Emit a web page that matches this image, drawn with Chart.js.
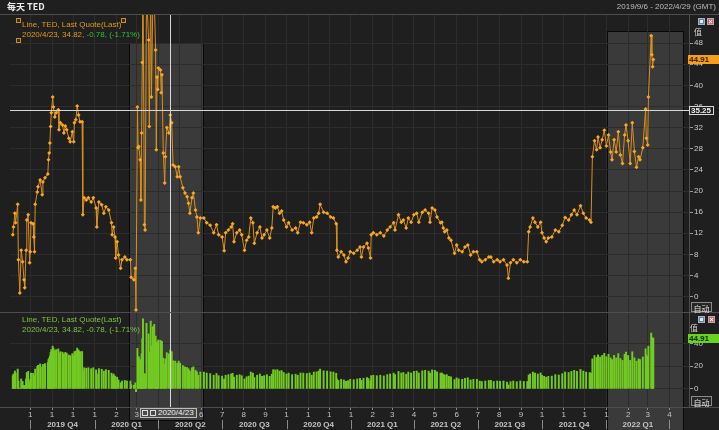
<!DOCTYPE html>
<html>
<head>
<meta charset="utf-8">
<script src="https://cdn.jsdelivr.net/npm/chart.js@4"></script>
<style>
  html, body { margin: 0; padding: 0; background: #1f1f1f; }
  #wrap { position: relative; width: 719px; height: 430px; overflow: hidden; background: #1f1f1f; }
  #chart { position: absolute; left: 0; top: 0; }
  .txt { position: absolute; white-space: nowrap; font: 8px "Liberation Sans", Arial, sans-serif; line-height: 10px; }
  .cjk { font-family: "Noto Sans CJK SC", sans-serif; color: #cfcfcf; }
  .orange { color: #e39a1e; }
  .green { color: #2fc23a; }
  .lgreen { color: #7fc241; }
  .tag { position: absolute; height: 9px; line-height: 9px; font: bold 8px "Liberation Sans", Arial, sans-serif; padding: 0 1px; box-sizing: border-box; }
  .btn { position: absolute; width: 21px; height: 10px; line-height: 9px; box-sizing: border-box; border: 1px solid #8a8a8a; color: #e0e0e0; font: 8px "Noto Sans CJK SC", sans-serif; text-align: center; background: #262626; }
  .ico { position: absolute; width: 7px; height: 7px; box-sizing: border-box; }
  .win { border: 1px solid #9fb4c8; background: #dfe8f0; box-shadow: inset 0 0 0 1px #6b8097; }
  .cls { border: 1px solid #c9a0a0; background: #b86868; color: #fff; font: bold 7px/5px Arial, sans-serif; text-align: center; }
  .sq { position: absolute; width: 5px; height: 5px; box-sizing: border-box; border: 1px solid #d08c1e; background: #3a2a10; }
  .xbox { position: absolute; height: 10px; box-sizing: border-box; border: 1px solid #bdbdbd; background: #4a4a4a; color: #f0f0f0; font: 8px/8px "Liberation Sans", Arial, sans-serif; padding: 0 2px 0 1px; white-space: nowrap; }
  .xbox i { display: inline-block; width: 6px; height: 6px; border: 1px solid #ddd; box-sizing: border-box; margin: 1px 2px 0 0; vertical-align: top; }
</style>
</head>
<body>
<div id="wrap">
  <canvas id="chart" width="719" height="430"></canvas>

  <div class="txt cjk" style="left:7px;top:2px;font-size:9px;color:#ececec;font-weight:bold">每天 TED</div>
  <div class="txt" style="right:3px;top:2px;color:#bdbdbd">2019/9/6 - 2022/4/29 (GMT)</div>
  <span class="ico win" style="left:698px;top:18px"></span>
  <span class="ico cls" style="left:707px;top:18px">×</span>
  <div class="txt cjk" style="left:694px;top:27px">值</div>

  <span class="sq" style="left:16px;top:18px"></span>
  <span class="sq" style="left:121px;top:18px"></span>
  <span class="sq" style="left:16px;top:38px"></span>
  <div class="txt orange" style="left:22px;top:20px">Line, TED, Last Quote(Last)</div>
  <div class="txt orange" style="left:22px;top:30px">2020/4/23, 34.82, <span class="green">-0.78, (-1.71%)</span></div>

  <div class="tag" style="left:688px;top:55px;width:31px;background:#f5a01a;color:#3b1d00">44.91</div>
  <div class="tag" style="left:689px;top:106px;width:25px;border:1px solid #d8d8d8;color:#eeeeee;background:#202020;line-height:7px">35.25</div>
  <div class="btn" style="left:691px;top:302px">自动</div>

  <span class="ico win" style="left:698px;top:316px"></span>
  <span class="ico cls" style="left:708px;top:316px">×</span>
  <div class="txt cjk" style="left:690px;top:323px">值</div>
  <div class="txt lgreen" style="left:22px;top:315px">Line, TED, Last Quote(Last)</div>
  <div class="txt lgreen" style="left:22px;top:325px">2020/4/23, 34.82, -0.78, (-1.71%)</div>
  <div class="tag" style="left:688px;top:334px;width:31px;background:#6ad41c;color:#0f2a00">44.91</div>
  <div class="btn" style="left:691px;top:396px">自动</div>

  <div class="xbox" style="left:140px;top:408px"><i></i><i></i>2020/4/23</div>
</div>

<script>
// x values are calendar-day offsets from 2019-09-06 (first day of the range)
const days = [
  0, 1, 3, 4, 7, 8, 10, 12, 14, 16, 17, 19, 20, 22, 24, 25, 26, 29, 30, 31,
  32, 35, 36, 39, 42, 43, 46, 50, 51, 52, 53, 54, 55, 57, 58, 60, 62, 65, 66, 68,
  71, 73, 75, 77, 80, 82, 85, 87, 88, 90, 92, 94, 96, 99, 100, 102, 105, 108, 112, 115,
  119, 120, 123, 127, 130, 133, 137, 141, 142, 144, 146, 147, 149, 151, 154, 156, 160, 163, 168, 169,
  173, 175, 176, 178, 179, 180, 182, 183, 184, 185, 186, 188, 189, 191, 194, 195, 197, 198, 200, 202,
  204, 205, 206, 207, 208, 211, 212, 213, 215, 217, 218, 220, 223, 225, 227, 229, 232, 235, 237, 239,
  243, 246, 249, 251, 253, 256, 258, 261, 263, 265, 268, 273, 277, 282, 287, 291, 294, 299, 302, 304,
  308, 312, 314, 316, 320, 324, 327, 331, 334, 337, 340, 343, 345, 349, 353, 356, 359, 363, 367, 370,
  372, 375, 378, 381, 384, 387, 391, 394, 399, 404, 407, 411, 415, 420, 424, 427, 430, 434, 437, 439,
  444, 449, 454, 458, 462, 463, 465, 469, 473, 476, 479, 482, 487, 492, 496, 498, 501, 506, 508, 511,
  512, 515, 520, 525, 530, 535, 539, 544, 546, 551, 555, 558, 562, 565, 569, 573, 577, 580, 585, 589,
  594, 596, 599, 603, 606, 611, 613, 615, 617, 620, 623, 626, 631, 634, 637, 642, 646, 650, 654, 658,
  663, 667, 670, 675, 680, 683, 687, 692, 696, 701, 706, 708, 711, 715, 720, 725, 730, 735, 737, 739,
  743, 746, 750, 754, 756, 759, 762, 765, 770, 775, 780, 785, 789, 794, 798, 802, 806, 811, 815, 819,
  824, 826, 828, 831, 834, 836, 839, 842, 845, 848, 851, 854, 856, 859, 862, 865, 868, 871, 874, 876,
  879, 882, 885, 888, 891, 894, 896, 900, 904, 905, 907, 908, 912, 913, 914, 915
];
const values = [
  11.7, 13.2, 15.8, 14, 17.5, 7, 0.7, 8.8, 6.6, 3.2, 1.7, 8.8, 14.5, 15.5, 6.4, 8.5, 14, 13.8, 11.3, 8.5,
  17.5, 19.8, 20.8, 22.1, 19.3, 21.7, 22.5, 23.2, 25.9, 27.2, 29.1, 32.2, 34.8, 37.8, 35.9, 34, 34.8, 35.4, 31.6, 32.9,
  32.5, 31, 32.3, 31.6, 30, 29.3, 31.2, 29.3, 32.9, 33.5, 36.1, 34.4, 33.1, 33.1, 15.5, 18.7, 18.3, 18.7, 17.9, 18.7,
  16.8, 13.2, 17.9, 17.4, 15.8, 17, 16.4, 14, 11.7, 13.2, 11.3, 7.3, 10.4, 7.9, 5.4, 7, 7.5, 7, 7, 3.7,
  3.2, 5.4, -2.5, 35.9, 28.2, 28.4, 25.9, 18.3, 31, 44.3, 62, 13.6, 12.6, 58, 48.6, 32.2, 60, 37.8, 55, 57,
  46.7, 27.8, 41.6, 39.2, 43.3, 42.9, 38.6, 42, 27.2, 21.5, 26.5, 32, 31, 34.4, 32.9, 24.9, 24.6, 22.7, 24.6, 22.7,
  20.6, 19.6, 18.9, 17.7, 15.8, 18.7, 19.6, 16.4, 15.1, 12.1, 14.9, 14.9, 14, 13.5, 12.1, 13.6, 11.7, 11.3, 8.7, 12.1,
  12.6, 13.2, 13.8, 10.4, 12.1, 12.6, 11.7, 8.8, 10.7, 11.3, 14.9, 14, 10.1, 12.1, 13.2, 11.1, 11.7, 12.6, 11.1, 13,
  17, 16.8, 17, 15.8, 16.2, 14.5, 13.2, 14, 12.6, 13, 12.1, 14.1, 14, 13.6, 14.1, 12.1, 14.9, 15.1, 15.8, 17.5,
  16, 15.8, 15.1, 14.9, 13.8, 8.8, 7.5, 8.5, 7.9, 6.6, 7.3, 8.5, 8.2, 8.8, 9.4, 7.5, 9.4, 10.1, 9.2, 7.3,
  11.7, 12.1, 11.7, 12.1, 11.5, 12.6, 13.2, 14, 12.6, 15.5, 14.1, 14.5, 13, 14.9, 14.1, 15.5, 15.8, 14.1, 16, 16.4,
  15.8, 14.1, 16.8, 16.4, 15.1, 14, 14.1, 13, 12.3, 12.6, 11.1, 10.7, 8.2, 9.8, 8.8, 8.5, 9.4, 9.8, 7.9, 8.5,
  8.5, 7, 6.6, 7, 7.5, 7.5, 6.6, 7, 6.6, 7, 6, 3.5, 6.4, 7, 6.4, 7, 6.6, 6.6, 12.3, 13.2,
  14.9, 14.1, 13.2, 14.1, 12.1, 11.1, 10.4, 11.1, 11.3, 12.6, 12.3, 13.5, 15, 14.5, 15.5, 16.4, 15.5, 17.2, 15.8, 14.9,
  14.5, 14.1, 26.5, 29.5, 27.8, 30.2, 28.2, 29.7, 31.5, 28.5, 30.6, 27.4, 25.9, 29.7, 27.4, 31.2, 26.8, 25.2, 30.6, 32.5,
  29.5, 25.2, 32.9, 27.5, 24.5, 26.5, 25.9, 28.2, 35.5, 30, 28.7, 37.8, 49.4, 45.8, 43.5, 44.91
];

// month starts (day offsets) and their labels as the terminal prints them
const monthDays = [25, 56, 86, 117, 148, 177, 208, 238, 269, 299, 330, 361, 391, 422, 452,
  483, 514, 542, 573, 603, 634, 664, 695, 726, 756, 787, 817, 848, 879, 907, 938];
const monthLabels = ['1', '1', '1', '1', '2', '3', '4', '5', '6', '7', '8', '9', '1', '1', '1',
  '1', '2', '3', '4', '5', '6', '7', '8', '9', '1', '1', '1', '1', '2', '3', '4'];
const quarterEdges = [25, 117, 208, 299, 391, 483, 573, 664, 756, 848, 938];
const quarterLabels = ['2019 Q4', '2020 Q1', '2020 Q2', '2020 Q3', '2020 Q4',
  '2021 Q1', '2021 Q2', '2021 Q3', '2021 Q4', '2022 Q1'];
const upperTicks = [0, 4, 8, 12, 16, 20, 24, 28, 32, 36, 40, 44, 48];
const lowerTicks = [0, 20, 40];

// shaded highlight ranges and the crosshair
const shadeFrom = [166, 849];
const shadeTo = [272, 958];
const shadeTop = [48, 50.3];
const crossDay = 225;
const crossValue = 35.25;

Chart.defaults.font.family = '"Liberation Sans", Arial, sans-serif';
Chart.defaults.font.size = 8;

const points = days.map((d, i) => ({ x: d, y: values[i] }));

const panels = {
  id: 'panels',
  beforeDraw(chart) {
    const { ctx, chartArea, scales } = chart;
    ctx.save();
    shadeFrom.forEach((from, i) => {
      const x1 = Math.round(scales.x.getPixelForValue(from)) + 0.5;
      const x2 = Math.round(scales.x.getPixelForValue(shadeTo[i])) + 0.5;
      const top = Math.round(scales.y.getPixelForValue(shadeTop[i])) + 0.5;
      const bottom = i === 0 ? chartArea.bottom + 13.5 : chart.height + 1;
      ctx.fillStyle = '#3a3a3a';
      ctx.fillRect(x1, top, x2 - x1, bottom - top);
      ctx.strokeStyle = '#080808';
      ctx.lineWidth = 1;
      ctx.strokeRect(x1, top, x2 - x1, bottom - top);
    });
    ctx.restore();
  },
  afterDatasetsDraw(chart) {
    const { ctx, chartArea, scales } = chart;
    ctx.save();
    ctx.strokeStyle = '#d6d6d6';
    ctx.lineWidth = 1;
    const cx = Math.round(scales.x.getPixelForValue(crossDay)) + 0.5;
    const cy = Math.round(scales.y.getPixelForValue(crossValue)) + 0.5;
    ctx.beginPath();
    ctx.moveTo(cx, chartArea.top);
    ctx.lineTo(cx, chartArea.bottom + 2);
    ctx.moveTo(chartArea.left, cy);
    ctx.lineTo(chartArea.right, cy);
    ctx.stroke();
    ctx.restore();
  },
  afterDraw(chart) {
    const { ctx, chartArea, scales } = chart;
    ctx.save();
    ctx.strokeStyle = '#4d4d4d';
    ctx.lineWidth = 1;
    ctx.beginPath();
    [chartArea.top, scales.y2.top, chartArea.bottom].forEach(y => {
      const py = Math.round(y) + 0.5;
      ctx.moveTo(0, py);
      ctx.lineTo(chart.width, py);
    });
    ctx.stroke();
    // quarter separators under the month labels
    ctx.strokeStyle = '#8a8a8a';
    ctx.beginPath();
    quarterEdges.forEach(d => {
      const px = Math.round(scales.xq.getPixelForValue(d)) + 0.5;
      ctx.moveTo(px, scales.xq.top + 1);
      ctx.lineTo(px, scales.xq.bottom - 1);
    });
    ctx.stroke();
    ctx.restore();
  }
};

new Chart(document.getElementById('chart'), {
  type: 'line',
  data: {
    datasets: [
      {
        type: 'line',
        data: points,
        xAxisID: 'x',
        yAxisID: 'y',
        borderColor: '#d8901e',
        borderWidth: 1,
        pointStyle: 'rectRot',
        pointRadius: 2,
        pointBorderWidth: 0,
        pointBackgroundColor: '#f9a823',
        tension: 0
      },
      {
        type: 'bar',
        data: points,
        xAxisID: 'x',
        yAxisID: 'y2',
        backgroundColor: '#72ca22',
        barThickness: 1.3
      }
    ]
  },
  options: {
    responsive: false,
    animation: false,
    devicePixelRatio: 1,
    events: [],
    layout: { padding: { left: 10, top: 14, right: 0, bottom: 0 } },
    plugins: { legend: { display: false }, tooltip: { enabled: false } },
    scales: {
      x: {
        type: 'linear', position: 'bottom', min: -4, max: 966, offset: false,
        afterBuildTicks: s => { s.ticks = monthDays.map(v => ({ value: v })); },
        afterFit: s => { s.height = 12; s.paddingLeft = 0; s.paddingRight = 0; },
        grid: { color: '#2c2c2c', tickColor: '#8a8a8a', tickLength: 3, offset: false },
        border: { display: false },
        ticks: {
          color: '#c4c4c4', padding: 0, maxRotation: 0, autoSkip: false,
          callback: (v, i) => monthLabels[i]
        }
      },
      xq: {
        type: 'linear', position: 'bottom', min: -4, max: 966, offset: false, weight: 1,
        afterBuildTicks: s => {
          s.ticks = quarterLabels.map((_, i) => ({ value: (quarterEdges[i] + quarterEdges[i + 1]) / 2 }));
        },
        afterFit: s => { s.height = 11; s.paddingLeft = 0; s.paddingRight = 0; },
        grid: { display: false, drawTicks: false },
        border: { display: false },
        ticks: {
          color: '#c4c4c4', font: { weight: 'bold' }, padding: 1, maxRotation: 0, autoSkip: false,
          callback: (v, i) => quarterLabels[i]
        }
      },
      y: {
        type: 'linear', position: 'right', stack: 'panes', stackWeight: 298, min: -2.9, max: 53.5,
        afterBuildTicks: s => { s.ticks = upperTicks.map(v => ({ value: v })); },
        afterFit: s => { s.width = 30; s.paddingTop = 0; s.paddingBottom = 0; },
        grid: { color: '#2c2c2c', tickColor: '#9a9a9a', tickLength: 4 },
        border: { color: '#4d4d4d' },
        ticks: { color: '#c8c8c8', padding: 1 }
      },
      y2: {
        type: 'linear', position: 'right', stack: 'panes', stackWeight: 95, min: -16, max: 68,
        afterBuildTicks: s => { s.ticks = lowerTicks.map(v => ({ value: v })); },
        afterFit: s => { s.width = 30; s.paddingTop = 0; s.paddingBottom = 0; },
        grid: { color: '#2c2c2c', tickColor: '#9a9a9a', tickLength: 4 },
        border: { color: '#4d4d4d' },
        ticks: { color: '#c8c8c8', padding: 1 }
      }
    }
  },
  plugins: [panels]
});
</script>
</body>
</html>
